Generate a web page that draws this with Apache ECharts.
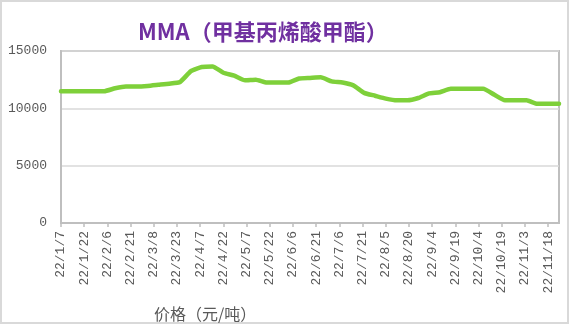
<!DOCTYPE html>
<html>
<head>
<meta charset="utf-8">
<script src="https://cdn.jsdelivr.net/npm/echarts@6/dist/echarts.min.js"></script>
<style>
html,body{margin:0;padding:0;background:#fff;}
#chart{width:569px;height:325px;}
</style>
</head>
<body>
<div id="chart"></div>
<script>
// Weekly observation dates
var dates = ['2022-01-07','2022-01-14','2022-01-21','2022-01-28','2022-02-04','2022-02-11','2022-02-18','2022-02-25',
  '2022-03-04','2022-03-11','2022-03-18','2022-03-25','2022-04-01','2022-04-08','2022-04-15','2022-04-22',
  '2022-04-29','2022-05-06','2022-05-13','2022-05-20','2022-05-27','2022-06-03','2022-06-10','2022-06-17',
  '2022-06-24','2022-07-01','2022-07-08','2022-07-15','2022-07-22','2022-07-29','2022-08-05','2022-08-12',
  '2022-08-19','2022-08-26','2022-09-02','2022-09-09','2022-09-16','2022-09-23','2022-09-30','2022-10-07',
  '2022-10-14','2022-10-21','2022-10-28','2022-11-04','2022-11-11','2022-11-18','2022-11-25'];
// MMA price (yuan/ton)
var prices = [11500,11500,11500,11500,11500,11750,11900,11900,
  11950,12050,12150,12300,13250,13600,13650,13100,
  12850,12450,12500,12250,12250,12250,12600,12650,
  12700,12350,12250,12000,11350,11100,10850,10700,
  10700,10900,11300,11400,11700,11700,11700,11700,
  11200,10700,10700,10700,10400,10400,10400];
// X tick labels (every 15 days from 22/1/7)
var tickLabels = ['22/1/7','22/1/22','22/2/6','22/2/21','22/3/8','22/3/23','22/4/7','22/4/22','22/5/7','22/5/22',
  '22/6/6','22/6/21','22/7/6','22/7/21','22/8/5','22/8/20','22/9/4','22/9/19','22/10/4','22/10/19','22/11/3','22/11/18'];
var yTicks = [0,5000,10000,15000];

var t0 = Date.parse(dates[0]);
function dayOf(d){ return Math.round((Date.parse(d) - t0) / 86400000); }
var seriesData = dates.map(function(d,i){ return [dayOf(d), prices[i]]; });
var xMax = dayOf(dates[dates.length-1]);

var chart = echarts.init(document.getElementById('chart'));
chart.setOption({
  animation:false,
  backgroundColor:'#fff',
  title:[{
    text:'MMA（甲基丙烯酸甲酯）',
    left:133, top:16,
    textStyle:{color:'#7030A0', fontSize:22, fontWeight:'bold', fontFamily:'"Noto Sans CJK SC", sans-serif'}
  },{
    text:'价格（元/吨）',
    left:149, top:301,
    textStyle:{color:'#595959', fontSize:16, fontWeight:'normal', fontFamily:'"Noto Sans CJK SC", sans-serif'}
  }],
  graphic:[{
    type:'rect', shape:{x:1, y:1, width:567, height:322},
    style:{fill:'none', stroke:'#d9d9d9', lineWidth:2}, silent:true
  }],
  grid:{left:61, right:10, top:51, bottom:102, show:true, borderColor:'#bfbfbf', borderWidth:2, backgroundColor:'transparent'},
  xAxis:{
    type:'value', min:0, max:xMax, interval:15,
    axisLine:{show:true, lineStyle:{color:'#bfbfbf', width:2}},
    axisTick:{show:true, length:4, lineStyle:{color:'#bfbfbf', width:1.5}},
    splitLine:{show:false},
    axisLabel:{
      rotate:90, margin:8, color:'#595959', fontSize:13, fontFamily:'"Liberation Mono", monospace',
      showMaxLabel:false,
      formatter:function(v){ var i = Math.round(v/15); return (v % 15 === 0 && tickLabels[i]) ? tickLabels[i] : ''; }
    }
  },
  yAxis:{
    type:'value', min:yTicks[0], max:yTicks[yTicks.length-1], interval:5000,
    axisLine:{show:true, lineStyle:{color:'#bfbfbf', width:2}},
    axisTick:{show:false},
    splitLine:{show:true, lineStyle:{color:'#d9d9d9', width:1.5}},
    axisLabel:{color:'#595959', fontSize:13, margin:14, fontFamily:'"Liberation Mono", monospace',
      formatter:function(v){ return String(v); }}
  },
  series:[{
    type:'line', data:seriesData, showSymbol:false, symbol:'none',
    lineStyle:{color:'#7ED03A', width:4.5, join:'round', cap:'round'},
    smooth:0.15
  }]
});
</script>
</body>
</html>
